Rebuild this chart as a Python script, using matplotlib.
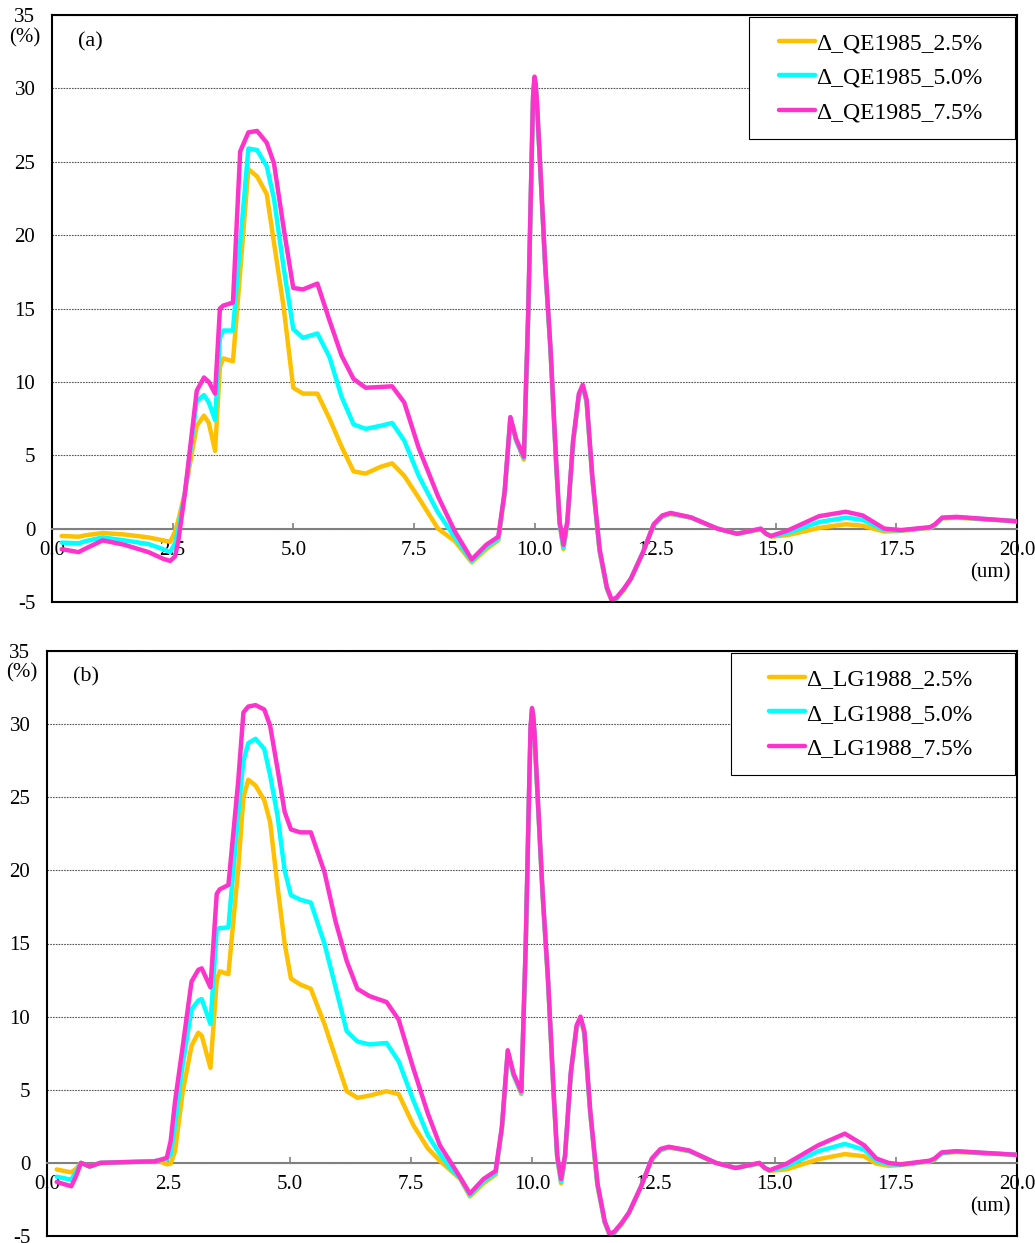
import numpy as np
import matplotlib
matplotlib.use('Agg')
import matplotlib.pyplot as plt
from matplotlib.patches import Rectangle

plt.rcParams['font.family'] = ['Liberation Serif', 'DejaVu Serif']
plt.rcParams['axes.unicode_minus'] = False

# panel (a): QE1985
x_a = [0.2, 0.55, 0.7, 1.05, 1.5, 2.0, 2.3, 2.45, 2.55, 2.62,
       2.75, 3.0, 3.15, 3.25, 3.38, 3.48, 3.55, 3.75, 3.9, 4.07,
       4.25, 4.45, 4.6, 4.8, 5.0, 5.2, 5.5, 5.75, 6.0, 6.25,
       6.5, 6.8, 7.05, 7.3, 7.6, 8.0, 8.35, 8.7, 9.0, 9.25,
       9.38, 9.5, 9.62, 9.78, 9.87, 9.94, 9.97, 10.0, 10.025, 10.05,
       10.12, 10.22, 10.33, 10.45, 10.52, 10.6, 10.68, 10.8, 10.92, 11.0,
       11.08, 11.2, 11.35, 11.5, 11.6, 11.7, 11.85, 12.0, 12.25, 12.47,
       12.65, 12.82, 13.24, 13.79, 14.2, 14.69, 14.8, 14.9, 15.24, 15.9,
       16.45, 16.8, 17.25, 17.6, 18.2, 18.3, 18.45, 18.75, 20.0]
qe_25 = [-0.5, -0.55, -0.45, -0.3, -0.4, -0.6, -0.8, -0.9, -0.2, 0.6,
         2.4, 7.0, 7.7, 7.2, 5.3, 11.0, 11.6, 11.4, 17.5, 24.5,
         24.0, 22.8, 19.5, 15.1, 9.6, 9.2, 9.2, 7.5, 5.6, 3.9,
         3.75, 4.2, 4.45, 3.6, 2.1, 0.0, -0.85, -2.3, -1.4, -0.8,
         2.3, 7.5, 6.0, 4.7, 14.5, 25.0, 29.2, 30.6, 30.1, 29.0,
         24.5, 18.0, 12.2, 4.3, 0.3, -1.4, 0.3, 5.8, 9.0, 9.6,
         8.6, 3.3, -1.6, -4.1, -4.95, -4.8, -4.2, -3.4, -1.6, 0.2,
         0.8, 1.0, 0.75, 0.0, -0.35, -0.05, -0.35, -0.55, -0.45, 0.05,
         0.3, 0.2, -0.2, -0.15, 0.05, 0.2, 0.7, 0.75, 0.5]
qe_50 = [-0.95, -1.0, -0.85, -0.6, -0.8, -1.05, -1.4, -1.6, -1.0, 0.0,
         2.3, 8.7, 9.1, 8.6, 7.4, 13.0, 13.5, 13.5, 19.5, 25.9,
         25.8, 24.7, 22.5, 17.8, 13.6, 13.0, 13.3, 11.7, 9.0, 7.1,
         6.8, 7.0, 7.2, 6.0, 3.6, 1.1, -0.6, -2.2, -1.25, -0.7,
         2.4, 7.55, 6.0, 4.8, 14.6, 25.0, 29.3, 30.7, 30.2, 29.0,
         24.5, 18.0, 12.3, 4.4, 0.4, -1.3, 0.4, 5.9, 9.1, 9.7,
         8.7, 3.4, -1.5, -4.05, -4.9, -4.75, -4.15, -3.4, -1.6, 0.25,
         0.85, 1.03, 0.76, 0.0, -0.35, -0.02, -0.35, -0.52, -0.3, 0.45,
         0.75, 0.6, -0.1, -0.12, 0.08, 0.25, 0.72, 0.78, 0.5]
qe_75 = [-1.4, -1.6, -1.35, -0.8, -1.1, -1.6, -2.05, -2.2, -1.9, -0.8,
         2.3, 9.4, 10.3, 10.0, 9.2, 15.0, 15.2, 15.4, 25.7, 27.0,
         27.1, 26.3, 24.9, 20.5, 16.4, 16.3, 16.7, 14.2, 11.8, 10.2,
         9.6, 9.65, 9.7, 8.6, 5.5, 2.2, -0.2, -2.1, -1.1, -0.55,
         2.5, 7.6, 6.1, 4.9, 14.8, 25.2, 29.5, 30.8, 30.3, 29.1,
         24.6, 18.1, 12.4, 4.5, 0.5, -1.1, 0.5, 6.0, 9.2, 9.8,
         8.8, 3.5, -1.4, -4.0, -4.85, -4.7, -4.1, -3.4, -1.6, 0.3,
         0.9, 1.07, 0.77, 0.0, -0.35, 0.0, -0.35, -0.5, -0.14, 0.85,
         1.15, 0.9, 0.0, -0.1, 0.1, 0.3, 0.75, 0.8, 0.5]

# panel (b): LG1988
x_b = [0.2, 0.5, 0.6, 0.7, 0.88, 1.1, 1.6, 2.2, 2.33, 2.47,
       2.55, 2.64, 2.8, 2.98, 3.12, 3.19, 3.37, 3.5, 3.56, 3.74,
       3.94, 4.05, 4.15, 4.3, 4.48, 4.6, 4.75, 4.9, 5.03, 5.22,
       5.44, 5.72, 5.95, 6.18, 6.4, 6.65, 7.0, 7.25, 7.55, 7.85,
       8.1, 8.35, 8.52, 8.72, 9.0, 9.25, 9.38, 9.5, 9.62, 9.78,
       9.87, 9.94, 9.97, 10.0, 10.025, 10.05, 10.12, 10.22, 10.33, 10.45,
       10.52, 10.6, 10.68, 10.8, 10.92, 11.0, 11.08, 11.2, 11.35, 11.5,
       11.6, 11.7, 11.85, 12.0, 12.25, 12.47, 12.65, 12.82, 13.24, 13.79,
       14.2, 14.69, 14.8, 14.9, 15.24, 15.9, 16.45, 16.85, 17.1, 17.35,
       17.6, 18.2, 18.3, 18.45, 18.75, 20.0]
lg_25 = [-0.45, -0.65, -0.4, 0.0, -0.25, 0.0, 0.05, 0.1, 0.1, -0.1,
         -0.05, 0.8, 4.9, 8.0, 8.9, 8.7, 6.5, 12.5, 13.1, 12.9,
         20.0, 25.0, 26.2, 25.8, 24.8, 23.3, 19.0, 15.0, 12.6, 12.2,
         11.9, 9.5, 7.2, 4.9, 4.45, 4.6, 4.9, 4.7, 2.6, 1.0,
         0.14, -0.6, -1.1, -2.3, -1.4, -0.8, 2.3, 7.5, 6.0, 4.7,
         14.6, 25.3, 29.5, 30.9, 30.4, 29.3, 24.7, 18.2, 12.4, 4.4,
         0.3, -1.4, 0.3, 6.0, 9.2, 9.8, 8.8, 3.4, -1.6, -4.1,
         -4.95, -4.8, -4.2, -3.4, -1.6, 0.2, 0.85, 1.05, 0.8, 0.0,
         -0.35, -0.05, -0.35, -0.55, -0.45, 0.25, 0.6, 0.45, -0.05, -0.2,
         -0.15, 0.1, 0.2, 0.65, 0.75, 0.55]
lg_50 = [-0.95, -1.15, -0.6, 0.0, -0.25, 0.0, 0.05, 0.1, 0.2, 0.25,
         0.6, 2.6, 6.8, 10.5, 11.1, 11.2, 9.5, 16.0, 16.05, 16.1,
         23.8, 27.5, 28.7, 29.0, 28.3, 26.5, 23.8, 20.0, 18.3, 18.0,
         17.8, 15.0, 12.0, 9.0, 8.3, 8.1, 8.2, 6.95, 4.3, 1.9,
         0.6, -0.5, -1.05, -2.2, -1.25, -0.7, 2.4, 7.6, 6.0, 4.8,
         14.7, 25.4, 29.6, 31.0, 30.5, 29.4, 24.8, 18.3, 12.5, 4.5,
         0.4, -1.3, 0.4, 6.1, 9.3, 9.9, 8.9, 3.5, -1.5, -4.05,
         -4.9, -4.75, -4.15, -3.4, -1.6, 0.25, 0.9, 1.08, 0.82, 0.0,
         -0.35, -0.02, -0.35, -0.52, -0.25, 0.8, 1.3, 0.9, 0.15, -0.1,
         -0.12, 0.12, 0.25, 0.68, 0.78, 0.55]
lg_75 = [-1.3, -1.6, -0.9, 0.0, -0.25, 0.0, 0.05, 0.1, 0.2, 0.35,
         1.5, 4.2, 8.0, 12.4, 13.2, 13.3, 12.0, 18.4, 18.7, 19.0,
         26.0, 30.8, 31.2, 31.3, 31.0, 29.9, 27.0, 24.0, 22.8, 22.6,
         22.6, 19.9, 16.5, 13.8, 11.9, 11.4, 11.0, 9.8, 6.5, 3.4,
         1.2, -0.1, -1.0, -2.1, -1.1, -0.55, 2.5, 7.7, 6.1, 4.9,
         14.9, 25.5, 29.8, 31.1, 30.6, 29.5, 24.9, 18.4, 12.6, 4.6,
         0.5, -1.1, 0.5, 6.2, 9.4, 10.0, 9.0, 3.6, -1.4, -4.0,
         -4.85, -4.7, -4.1, -3.4, -1.6, 0.3, 0.95, 1.1, 0.85, 0.0,
         -0.35, 0.0, -0.35, -0.5, -0.07, 1.2, 2.0, 1.2, 0.3, 0.0,
         -0.1, 0.15, 0.3, 0.72, 0.8, 0.55]

colors = ['#FFC000', '#00FFFF', '#FF33CC']
levels = ['2.5%', '5.0%', '7.5%']
x_ticks = [0.0, 2.5, 5.0, 7.5, 10.0, 12.5, 15.0, 17.5, 20.0]
y_ticks = [-5, 0, 5, 10, 15, 20, 25, 30, 35]


def draw_panel(ax, x, series, name, tag, right_px):
    for y, c, lev in zip(series, colors, levels):
        ax.plot(x, y, color=c, lw=3.2, solid_joinstyle='round',
                solid_capstyle='round', zorder=3,
                label='\u0394_{}_{}'.format(name, lev))
    ax.set_xlim(0, 20)
    ax.set_ylim(-5, 35)
    ax.set_yticks(y_ticks)
    ax.set_xticks(x_ticks)
    ax.set_xticklabels(['{:.1f}'.format(t) for t in x_ticks])
    ax.yaxis.grid(True, linestyle=(0, (1.5, 1.0)), color='#555555', lw=0.8)
    ax.tick_params(axis='y', length=0, pad=12, labelsize=15)
    ax.tick_params(axis='x', direction='in', length=4, width=1.2,
                   color='#808080', pad=9, labelsize=15)
    ax.spines['bottom'].set_position(('data', 0))
    ax.spines['bottom'].set_color('#808080')
    ax.spines['bottom'].set_linewidth(1.5)
    for s in ['left', 'right', 'top']:
        ax.spines[s].set_color('black')
        ax.spines[s].set_linewidth(1.5)
    ax.axhline(-5, color='black', lw=1.5, clip_on=False, zorder=4)
    ax.text(0.04, 0.955, tag, transform=ax.transAxes, fontsize=16,
            ha='center', va='center')
    ax.text(0.972, 0.049, '(um)', transform=ax.transAxes, fontsize=15,
            ha='center', va='center')
    # legend without frame; the box is drawn afterwards with wider side margins
    w = ax.get_position().width * 1035
    leg = ax.legend(loc='upper right', bbox_to_anchor=(1.0 - right_px / w, 1.0),
                    borderaxespad=0.1, fontsize=17, frameon=False,
                    handlelength=1.5, handletextpad=0.05,
                    labelspacing=0.55, borderpad=0.65)
    return leg


def box_legend(ax, leg, left_px, right_px):
    bb = leg.get_window_extent().transformed(ax.transAxes.inverted())
    ax_bb = ax.get_window_extent()
    dl = left_px / ax_bb.width
    dr = right_px / ax_bb.width
    rect = Rectangle((bb.x0 - dl, bb.y0), bb.width + dl + dr, bb.height,
                     transform=ax.transAxes, facecolor='white',
                     edgecolor='black', lw=0.8, zorder=4.5, clip_on=False)
    ax.add_patch(rect)


def main():
    fig = plt.figure(figsize=(10.35, 12.43), dpi=100)
    ax_a = fig.add_axes([52 / 1035, 1 - 602 / 1243, 965 / 1035, 587 / 1243])
    ax_b = fig.add_axes([47 / 1035, 1 - 1236 / 1243, 970 / 1035, 585 / 1243])
    leg_a = draw_panel(ax_a, x_a, [qe_25, qe_50, qe_75], 'QE1985', '(a)', 17)
    leg_b = draw_panel(ax_b, x_b, [lg_25, lg_50, lg_75], 'LG1988', '(b)', 27)
    fig.text(25 / 1035, 1 - 38 / 1243, '(%)', fontsize=15,
             ha='center', va='center')
    fig.text(22 / 1035, 1 - 673 / 1243, '(%)', fontsize=15,
             ha='center', va='center')
    fig.canvas.draw()
    box_legend(ax_a, leg_a, 15, 17)
    box_legend(ax_b, leg_b, 23, 27)
    fig.savefig('out.png', dpi=100)


if __name__ == '__main__':
    main()
